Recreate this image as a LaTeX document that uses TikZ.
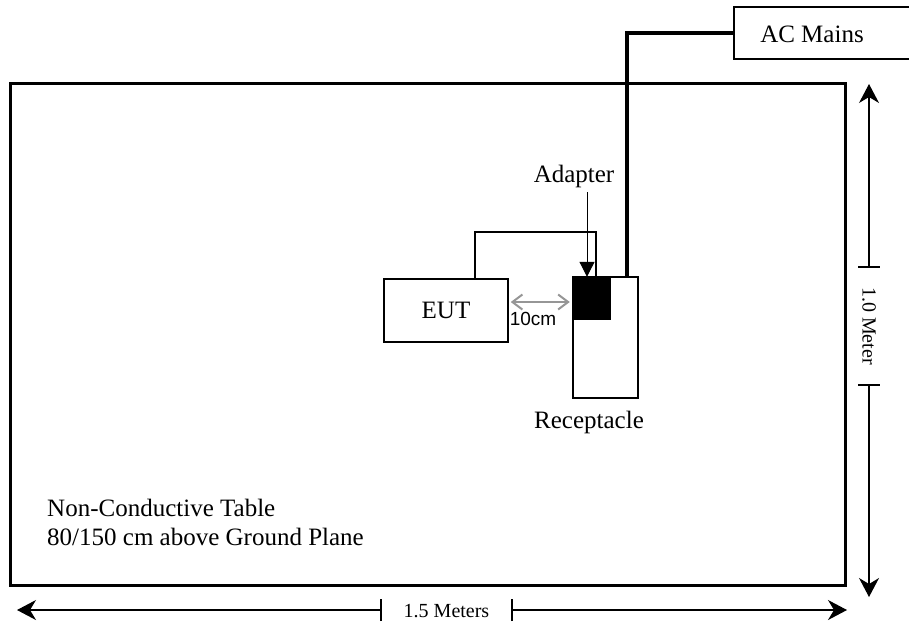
\documentclass[tikz,border=0pt]{standalone}
\usepackage{fontspec}
\setmainfont{Liberation Serif}
\newfontfamily\arialfont{Liberation Sans}
\usetikzlibrary{arrows.meta, positioning, calc}
\definecolor{spacinggray}{RGB}{150,150,150}

\begin{document}
\begin{tikzpicture}[x=1pt, y=-1pt,
  box/.style={draw, line width=1.5pt, inner sep=0pt},
  lbl/.style={font=\fontsize{25}{29}\selectfont, inner sep=0pt, anchor=base},
  dimlbl/.style={font=\fontsize{20}{24}\selectfont, inner sep=0pt},
  dimline/.style={line width=1.2pt, -{Stealth[length=19pt, width=20pt, inset=6pt]}},
  cable/.style={line width=1.6pt}]
  \useasboundingbox (0,0) rectangle (909,625);

  % table outline and its caption
  \node[draw, line width=3pt, minimum width=835pt, minimum height=502pt, inner sep=0pt] (table) at (428,334.5) {};
  \node[lbl, anchor=base west] (tabletxt1) at (47,516) {Non-Conductive Table};
  \node[lbl, anchor=base west] (tabletxt2) at (47,545) {80/150 cm above Ground Plane};

  % equipment
  \node[box, minimum width=124pt, minimum height=63pt, font=\fontsize{25}{29}\selectfont] (eut) at (446,310.5) {EUT};
  \node[box, minimum width=65pt, minimum height=121pt] (rec) at (605.5,337.5) {};
  \node[fill=black, inner sep=0pt, minimum width=38pt, minimum height=43pt] (plug) at (592,298.5) {};
  \node[lbl] (rectxt) at (589,428) {Receptacle};
  \node[box, minimum width=178pt, minimum height=52pt] (mains) at (823,33) {};
  \node[lbl] (mainstxt) at (812,42) {AC Mains};

  % cables
  \draw[line width=3.8pt] (mains.west) -| ([xshift=21.5pt]rec.north);
  \draw[cable] ([xshift=29pt]eut.north) -- ++(0,-46) -| ([xshift=4pt]plug.north);

  % adapter pointer
  \node[lbl] (adtxt) at (574,182) {Adapter};
  \draw[line width=1pt, -{Triangle[length=15pt, width=15pt]}] ([xshift=13pt, yshift=-4.6pt]adtxt.south) -- ([xshift=-5pt]plug.north);

  % 10cm spacing
  \draw[line width=2pt, spacinggray, {Straight Barb[length=10pt, width=15pt]}-{Straight Barb[length=10pt, width=15pt]}]
    ([xshift=2pt, yshift=8.5pt]eut.east) -- ([xshift=-3pt, yshift=-3.5pt]plug.west);
  \node[font=\arialfont\fontsize{19}{22}\selectfont, inner sep=0pt, anchor=base] (gaptxt) at (533,325) {10cm};

  % dimensions of the table
  \coordinate (vtop) at (869,84);
  \coordinate (vbot) at (869,597);
  \coordinate (vtick1) at (869,267);
  \coordinate (vtick2) at (869,385);
  \node[dimlbl, rotate=-90] (vtxt) at (869,326) {1.0 Meter};
  \coordinate (hleft) at (17,610);
  \coordinate (hright) at (847,610);
  \coordinate (htick1) at (381,610);
  \coordinate (htick2) at (512,610);
  \node[dimlbl, anchor=base] (htxt) at (446.5,617) {1.5 Meters};
  \foreach \t in {vtick1, vtick2}
    \draw[line width=1.2pt] ([xshift=-11pt]\t) -- ([xshift=11pt]\t);
  \foreach \t in {htick1, htick2}
    \draw[line width=1.2pt] ([yshift=-11pt]\t) -- ([yshift=11pt]\t);
  \draw[dimline] (vtick1) -- (vtop);
  \draw[dimline] (vtick2) -- (vbot);
  \draw[dimline] (htick1) -- (hleft);
  \draw[dimline] (htick2) -- (hright);
\end{tikzpicture}
\end{document}
